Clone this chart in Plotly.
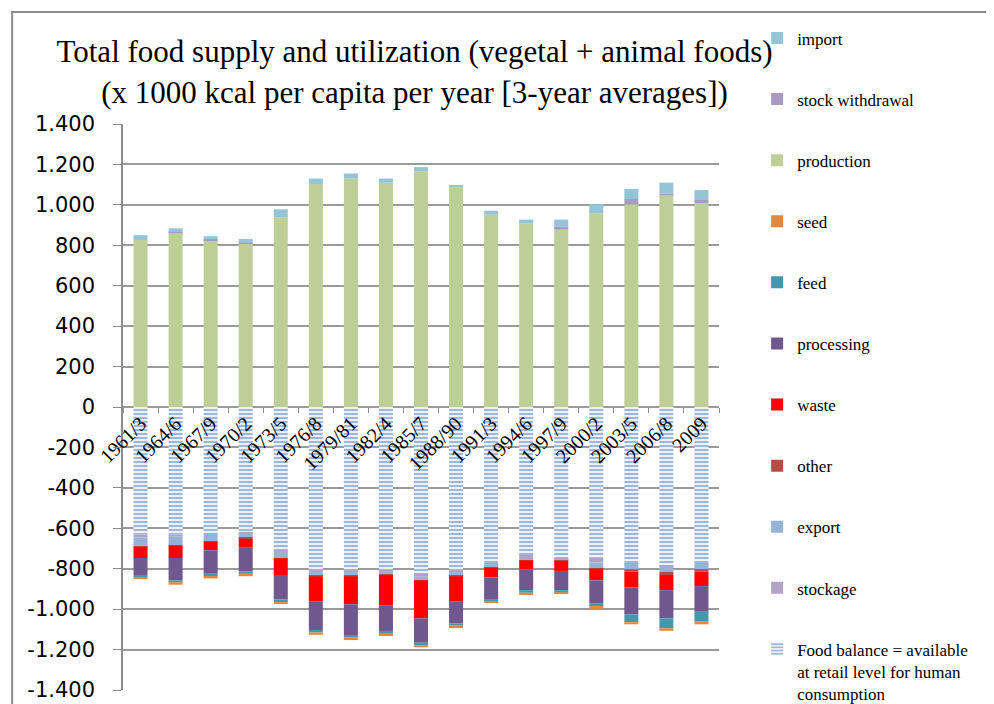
import plotly.graph_objects as go

# 3-year periods
periods = ["1961/3", "1964/6", "1967/9", "1970/2", "1973/5", "1976/8", "1979/81",
           "1982/4", "1985/7", "1988/90", "1991/3", "1994/6", "1997/9", "2000/2",
           "2003/5", "2006/8", "2009"]

# supply side (x 1000 kcal per capita per year)
production = [826, 864, 825, 807, 939, 1103, 1130, 1110, 1166, 1085, 952, 907, 877, 958, 1003, 1046, 1009]
stock_withdrawal = [0, 2, 6, 6, 0, 0, 0, 0, 0, 0, 0, 0, 14, 0, 26, 10, 15]
imports = [24, 18, 14, 18, 39, 27, 25, 20, 21, 13, 19, 20, 36, 45, 50, 54, 50]

# utilization side (drawn as negatives)
food_balance = [630, 630, 625, 622, 711, 810, 810, 807, 826, 810, 774, 732, 749, 744, 774, 785, 774]
stockage = [15, 12, 3, 2, 6, 4, 4, 3, 14, 4, 3, 20, 4, 25, 3, 3, 3]
export = [46, 42, 37, 23, 30, 22, 22, 20, 16, 22, 16, 5, 7, 28, 26, 27, 25]
other = [2, 2, 2, 5, 2, 2, 2, 2, 2, 2, 2, 2, 2, 3, 12, 16, 13]
waste = [54, 61, 42, 41, 82, 125, 138, 151, 188, 125, 48, 44, 49, 58, 77, 75, 71]
processing = [84, 111, 116, 120, 121, 140, 152, 125, 120, 108, 107, 103, 95, 115, 134, 140, 127]
feed = [10, 10, 11, 12, 13, 12, 13, 14, 12, 11, 10, 13, 11, 12, 39, 49, 49]
seed = [8, 11, 12, 12, 10, 12, 12, 11, 11, 12, 8, 11, 7, 13, 10, 12, 13]

y_ticks = [1400, 1200, 1000, 800, 600, 400, 200, 0, -200, -400, -600, -800, -1000, -1200, -1400]
y_ticktext = ["1.400", "1.200", "1.000", "800", "600", "400", "200", "0", "-200", "-400",
              "-600", "-800", "-1.000", "-1.200", "-1.400"]

serif = "Liberation Serif, Times New Roman, serif"

fig = go.Figure()

# negatives stack downward from zero in this order
neg_series = [
    ("Food balance = available<br>at retail level for human<br>consumption", food_balance, None),
    ("stockage", stockage, "#B3A2C7"),
    ("export", export, "#95B3D7"),
    ("other", other, "#B94A48"),
    ("waste", waste, "#FF0000"),
    ("processing", processing, "#70588F"),
    ("feed", feed, "#4298AE"),
    ("seed", seed, "#E5883E"),
]
pos_series = [
    ("production", production, "#BBCF97"),
    ("stock withdrawal", stock_withdrawal, "#A99AC4"),
    ("import", imports, "#93C5D7"),
]

rank = len(neg_series) + len(pos_series)

for name, vals, color in neg_series:
    if color is None:
        marker = dict(color="white",
                      pattern=dict(shape="-", fgcolor="#3E70B2", bgcolor="white",
                                   size=4, solidity=0.6),
                      line=dict(width=0))
    else:
        marker = dict(color=color, line=dict(width=0))
    fig.add_trace(go.Bar(x=periods, y=[-v for v in vals], name=name, marker=marker,
                         legendgroup=name, legendrank=rank))
    rank -= 1

for name, vals, color in pos_series:
    fig.add_trace(go.Bar(x=periods, y=vals, name=name,
                         marker=dict(color=color, line=dict(width=0)),
                         legendgroup=name, legendrank=rank))
    rank -= 1

# outer frame of the figure (only top and left edges visible)
fig.add_shape(type="rect", xref="paper", yref="paper", x0=-0.186, x1=1.6, y0=-0.2, y1=1.198,
              line=dict(color="#8C8C8C", width=2))

# page body has an 8px margin, so the figure is nudged up/left to compensate
fig.update_layout(
    width=994,
    height=704,
    barmode="relative",
    bargap=0.6,
    plot_bgcolor="white",
    paper_bgcolor="white",
    margin=dict(l=115, r=283, t=116, b=22, autoexpand=False),
    title=dict(
        text="Total food supply and utilization (vegetal + animal foods)<br>"
             "(x 1000 kcal per capita per year [3-year averages])",
        x=0.409, xanchor="center", y=0.923, yanchor="top",
        font=dict(family=serif, size=31, color="black"),
    ),
    legend=dict(
        x=1.064, xanchor="left", y=1.183, yanchor="top",
        traceorder="grouped", tracegroupgap=36, valign="top",
        maxheight=700,
        font=dict(family=serif, size=17, color="black"),
        bgcolor="rgba(0,0,0,0)",
    ),
    showlegend=True,
)

fig.update_yaxes(
    range=[-1400, 1400],
    tickvals=y_ticks,
    ticktext=y_ticktext,
    showgrid=True, gridcolor="#9A9A9A", gridwidth=1.5,
    zeroline=True, zerolinecolor="#9A9A9A", zerolinewidth=1.5,
    showline=True, linecolor="#8C8C8C", linewidth=1.5,
    ticks="outside", ticklen=8, tickcolor="#8C8C8C",
    ticklabelstandoff=14,
    tickfont=dict(family="DejaVu Sans, sans-serif", size=21, color="black"),
)

fig.update_xaxes(
    type="category",
    anchor="free", position=0.5,
    showline=False, showgrid=False,
    ticks="outside", tickson="boundaries", ticklen=5, tickcolor="#8C8C8C",
    tickangle=-45,
    tickfont=dict(family=serif, size=20, color="black"),
)

fig.write_html("out.html")
